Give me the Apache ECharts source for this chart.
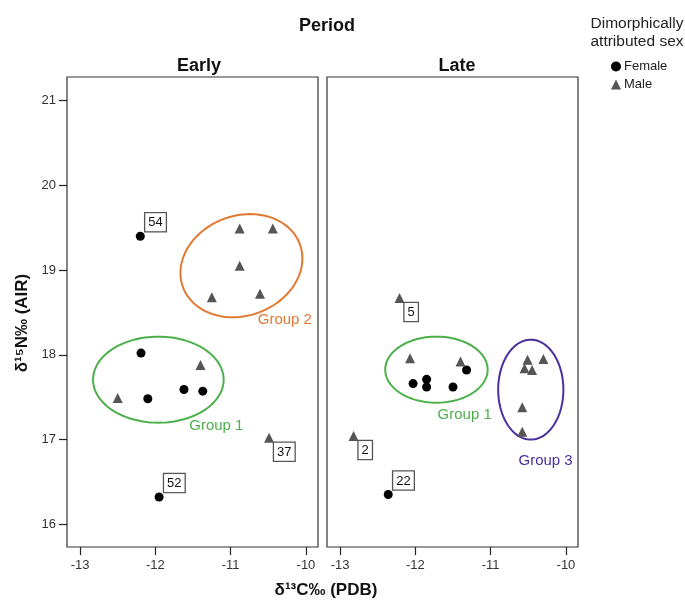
<!DOCTYPE html>
<html><head><meta charset="utf-8">
<script src="https://cdn.jsdelivr.net/npm/echarts@6/dist/echarts.min.js"></script>
<style>html,body{margin:0;padding:0;background:#fff}#c{width:685px;height:604px}</style>
</head><body><div id="c"></div>
<script>
// Data: [d13C, d15N, id]
const earlyFemale = [[-12.2, 19.40, '54'], [-12.19, 18.02], [-12.10, 17.48], [-11.62, 17.59], [-11.37, 17.57], [-11.95, 16.32, '52']];
const earlyMale = [[-10.88, 19.49], [-10.44, 19.49], [-10.88, 19.05], [-11.25, 18.68], [-10.61, 18.72], [-11.40, 17.88], [-12.50, 17.49], [-10.49, 17.02, '37']];
const lateFemale = [[-11.32, 17.82], [-12.03, 17.66], [-11.85, 17.71], [-11.85, 17.62], [-11.50, 17.62], [-12.36, 16.35, '22']];
const lateMale = [[-12.21, 18.67, '5'], [-12.07, 17.96], [-11.40, 17.92], [-10.51, 17.94], [-10.30, 17.95], [-10.55, 17.84], [-10.45, 17.82], [-10.58, 17.38], [-10.58, 17.09], [-12.82, 17.04, '2']];
// Group ellipses: [name, panel, cx, cy, rx, ry, rotationDeg, labelX, labelY]
const groups = [
  ['Group 2', 0, -10.857, 19.052, 0.827, 0.59, 20, -10.64, 18.41],
  ['Group 1', 0, -11.96, 17.706, 0.867, 0.508, 0, -11.55, 17.16],
  ['Group 1', 1, -11.72, 17.824, 0.68, 0.39, 0, -11.705, 17.29],
  ['Group 3', 1, -10.467, 17.588, 0.433, 0.59, 0, -10.63, 16.75]
];
const xTicks = [-13, -12, -11, -10];
const yTicks = [16, 17, 18, 19, 20, 21];

const groupColors = {'Group 1': '#4cb04a', 'Group 2': '#e07a32', 'Group 3': '#4a2f9e'};
const labelBelow = {'37': true, '5': true, '2': true};
const FONT = 'Liberation Sans, Arial, sans-serif';

const chart = echarts.init(document.getElementById('c'));

function xAxisCfg(i) {
  return {
    type: 'value', gridIndex: i, min: -13.173, max: -9.84,
    axisLine: {show: false},
    axisTick: {show: true, customValues: xTicks, length: 8, lineStyle: {color: '#222', width: 1.2}},
    axisLabel: {customValues: xTicks, color: '#333', fontSize: 13, fontFamily: FONT, margin: 12},
    splitLine: {show: false}
  };
}
function yAxisCfg(i) {
  return {
    type: 'value', gridIndex: i, min: 15.73, max: 21.28,
    axisLine: {show: false},
    axisTick: {show: i === 0, customValues: yTicks, length: 8, lineStyle: {color: '#222', width: 1.2}},
    axisLabel: {show: i === 0, customValues: yTicks, color: '#333', fontSize: 13, fontFamily: FONT, margin: 11},
    splitLine: {show: false}
  };
}

function pointSeries(name, data, panel, symbol, color, size) {
  return {
    type: 'scatter', name: name, xAxisIndex: panel, yAxisIndex: panel,
    data: data.map(d => [d[0], d[1]]), symbol: symbol, symbolSize: size,
    itemStyle: {color: color, opacity: 1}, z: 3
  };
}

function idSeries(panel, lists) {
  const data = [];
  lists.forEach(l => l.forEach(d => { if (d[2]) data.push([d[0], d[1], d[2]]); }));
  return {
    type: 'custom', xAxisIndex: panel, yAxisIndex: panel, data: data, z: 4,
    renderItem: function (params, api) {
      const p = api.coord([api.value(0), api.value(1)]);
      const id = data[params.dataIndex][2];
      const below = labelBelow[id];
      return {
        type: 'text',
        x: p[0] + 5, y: below ? p[1] + 5 : p[1] - 5,
        style: {
          text: id, fontSize: 13, fontFamily: FONT, fill: '#111',
          align: 'left', verticalAlign: below ? 'top' : 'bottom',
          backgroundColor: '#fff', borderColor: '#555', borderWidth: 1.3,
          padding: [3, 3, 2, 3]
        }
      };
    }
  };
}

function groupSeries(panel) {
  const data = groups.filter(g => g[1] === panel);
  return {
    type: 'custom', xAxisIndex: panel, yAxisIndex: panel, z: 2,
    data: data.map(g => [g[2], g[3], g[4], g[5], g[6], g[7], g[8]]),
    renderItem: function (params, api) {
      const g = data[params.dataIndex];
      const c = api.coord([g[2], g[3]]);
      const s = api.size([g[4], g[5]]);
      const a = g[6] * Math.PI / 180;
      const pts = [];
      for (let k = 0; k < 120; k++) {
        const t = k / 120 * Math.PI * 2;
        const ex = s[0] * Math.cos(t), ey = s[1] * Math.sin(t);
        pts.push([c[0] + ex * Math.cos(a) + ey * Math.sin(a), c[1] - ex * Math.sin(a) + ey * Math.cos(a)]);
      }
      const lp = api.coord([g[7], g[8]]);
      const col = groupColors[g[0]];
      return {
        type: 'group', children: [
          {type: 'polygon', shape: {points: pts}, style: {fill: 'none', stroke: col, lineWidth: 2}},
          {type: 'text', x: lp[0], y: lp[1], style: {text: g[0], fill: col, fontSize: 15, fontFamily: FONT, align: 'left', verticalAlign: 'middle'}}
        ]
      };
    }
  };
}

const option = {
  animation: false,
  backgroundColor: '#fff',
  title: [
    {text: 'Period', left: 322, top: 12, textAlign: 'center', textStyle: {fontSize: 18, fontWeight: 'bold', color: '#111', fontFamily: FONT}},
    {text: 'Early', left: 194, top: 52, textAlign: 'center', textStyle: {fontSize: 18, fontWeight: 'bold', color: '#111', fontFamily: FONT}},
    {text: 'Late', left: 452, top: 52, textAlign: 'center', textStyle: {fontSize: 18, fontWeight: 'bold', color: '#111', fontFamily: FONT}},
    {text: 'Dimorphically\nattributed sex', left: 632, top: 10, textAlign: 'center', textStyle: {fontSize: 15.5, fontWeight: 'normal', color: '#222', lineHeight: 18, fontFamily: FONT}},
    {text: 'δ¹³C‰ (PDB)', left: 321, top: 577, textAlign: 'center', textStyle: {fontSize: 17, fontWeight: 'bold', color: '#111', fontFamily: FONT}}
  ],
  graphic: [
    {type: 'text', x: 22, y: 323, rotation: Math.PI / 2,
     style: {text: 'δ¹⁵N‰ (AIR)', fontSize: 17, fontWeight: 'bold', fill: '#111', fontFamily: FONT, align: 'center', verticalAlign: 'middle'}}
  ],
  legend: {
    orient: 'vertical', left: 606, top: 55, itemGap: 5, itemWidth: 10, itemHeight: 10,
    data: [{name: 'Female', icon: 'circle', itemStyle: {color: '#000'}}, {name: 'Male', icon: 'triangle', itemStyle: {color: '#555'}}],
    textStyle: {fontSize: 13, color: '#222', fontFamily: FONT, padding: [0, 0, 0, -2]},
    selectedMode: false
  },
  grid: [
    {left: 67, top: 77, width: 251, height: 470, show: true, borderColor: '#333', borderWidth: 1.2, backgroundColor: 'transparent'},
    {left: 327, top: 77, width: 251, height: 470, show: true, borderColor: '#333', borderWidth: 1.2, backgroundColor: 'transparent'}
  ],
  xAxis: [xAxisCfg(0), xAxisCfg(1)],
  yAxis: [yAxisCfg(0), yAxisCfg(1)],
  series: [
    groupSeries(0), groupSeries(1),
    pointSeries('Female', earlyFemale, 0, 'circle', '#000', 9),
    pointSeries('Male', earlyMale, 0, 'triangle', '#555', 10),
    pointSeries('Female', lateFemale, 1, 'circle', '#000', 9),
    pointSeries('Male', lateMale, 1, 'triangle', '#555', 10),
    idSeries(0, [earlyFemale, earlyMale]),
    idSeries(1, [lateFemale, lateMale])
  ]
};
chart.setOption(option);
</script></body></html>
